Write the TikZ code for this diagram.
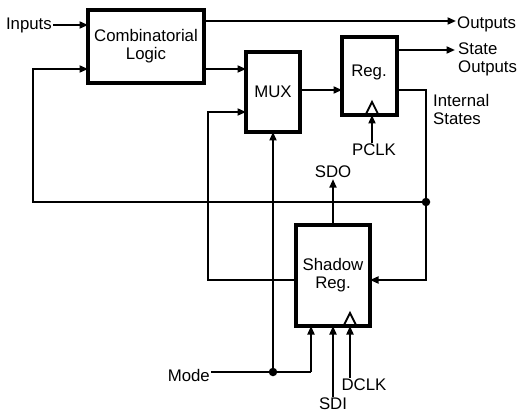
\documentclass[tikz,border=0pt]{standalone}
\usepackage{fontspec}
\setmainfont{Liberation Sans}
\usetikzlibrary{arrows.meta,calc}
\begin{document}
\begin{tikzpicture}[x=1pt,y=-1pt,
  blk/.style={draw,line width=3.4pt,inner sep=0pt,align=center,outer sep=0pt},
  lbl/.style={inner sep=1pt,align=left,font=\fontsize{16.8}{18}\selectfont},
  wire/.style={line width=1.9pt},
  arr/.style={wire,-{Triangle[length=8.5pt,width=7pt]}},
  dot/.style={circle,fill,inner sep=0pt,minimum size=8.5pt}]
\useasboundingbox (0,0) rectangle (519,414);
\begin{scope}[font=\fontsize{16.8}{18}\selectfont]
\node[blk,minimum width=116pt,minimum height=73pt] (CL) at (146,46.5) {Combinatorial\\Logic};
\node[blk,minimum width=54pt,minimum height=80pt] (MUX) at (273,92) {MUX};
\node[blk,minimum width=55pt,minimum height=78pt] (REG) at (369.5,76) {};
\node at (369,72) (regt) {Reg.};
\node[blk,minimum width=74pt,minimum height=101pt] (SH) at (333,275.5) {Shadow\\Reg.};
\end{scope}
% clock triangles
\draw[line width=1.8pt] (366,114) -- (372,102) -- (378,114);
\draw[line width=1.8pt] (344,325) -- (350,313) -- (356,325);
% labels
\node[lbl,anchor=east] (inputs) at (53,25) {Inputs};
\node[lbl,anchor=west] (outputs) at (456,24) {Outputs};
\node[lbl,anchor=west] (stout) at (457,59) {State\\Outputs};
\node[lbl,anchor=west] (intst) at (432,109) {Internal\\States};
\node[lbl] (pclk) at (374,150) {PCLK};
\node[lbl] (sdo) at (333,172) {SDO};
\node[lbl,anchor=east] (mode) at (211,375) {Mode};
\node[lbl] (sdi) at (333,404) {SDI};
\node[lbl] (dclk) at (364,385) {DCLK};
% coordinates
\node[dot] (d1) at (426,202) {};
\node[dot] (d2) at (273,372) {};
\coordinate (fbL) at (33,202);
\coordinate (fbT) at (33,69);
\coordinate (rc) at (426,90);
\coordinate (sc) at (426,280);
\coordinate (ml) at (208,280);
\coordinate (mt) at (208,112);
\coordinate (mr) at (311,372);
% wires
\draw[arr] (inputs.east) -- (CL.west |- inputs.east);
\draw[arr] (CL.east |- 0,21) -- (outputs.west |- 0,21);
\draw[arr] (CL.east |- 0,69) -- (MUX.west |- 0,69);
\draw[arr] (d1.center) -- (fbL) -- (fbT) -- (CL.west |- fbT);
\draw[arr] (MUX.east |- 0,90) -- (REG.west |- 0,90);
\draw[arr] (REG.east |- 0,50) -- (455,50);
\draw[arr] (REG.east |- rc) -- (rc) -- (sc) -- (SH.east |- sc);
\draw[arr] (SH.west |- ml) -- (ml) -- (mt) -- (MUX.west |- mt);
\draw[wire] (mode.east |- d2) -- (d2.center) -- (mr);
\draw[arr] (mr) -- (SH.south -| mr);
\draw[arr] (d2.center) -- (MUX.south);
\draw[arr] (pclk.north -| 372,0) -- (REG.south -| 372,0);
\draw[arr] (SH.north -| sdo) -- (sdo.south);
\draw[arr] (sdi.north) -- (SH.south -| sdi);
\draw[arr] (dclk.north -| 350,0) -- (SH.south -| 350,0);
\end{tikzpicture}
\end{document}
